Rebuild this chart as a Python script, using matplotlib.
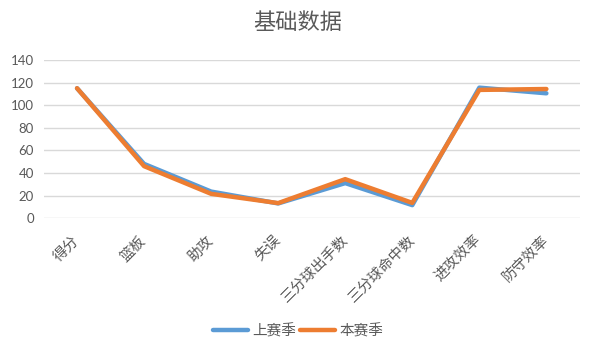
import matplotlib
matplotlib.use("Agg")
import matplotlib.pyplot as plt
from matplotlib.transforms import ScaledTranslation

plt.rcParams['font.family'] = ['Noto Sans CJK SC', 'DejaVu Sans']

categories = ['得分', '篮板', '助攻', '失误', '三分球出手数', '三分球命中数', '进攻效率', '防守效率']
last_season = [115, 48, 23.5, 13, 31, 11.5, 115.5, 110.5]
this_season = [115, 46, 21.5, 13.3, 34.5, 13.5, 113.5, 114.3]
yticks = [0, 20, 40, 60, 80, 100, 120, 140]

fig = plt.figure(figsize=(5.96, 3.57), dpi=100)
ax = fig.add_axes([0.073, 0.389, 0.9, 0.443])

x = list(range(len(categories)))
ax.plot(x, last_season, color='#5B9BD5', lw=3.2, label='上赛季', solid_capstyle='round')
ax.plot(x, this_season, color='#ED7D31', lw=3.2, label='本赛季', solid_capstyle='round')

ax.set_xlim(-0.5, len(categories) - 0.5)
ax.set_ylim(0, 140)
ax.set_yticks(yticks)
ax.set_yticklabels([str(v) for v in yticks], color='#595959', fontsize=9.5, family=['Lato', 'DejaVu Sans'])
ax.yaxis.grid(True, color='#D9D9D9', lw=1)
ax.set_axisbelow(True)
ax.tick_params(axis='both', length=0)
ax.tick_params(axis='y', pad=7)
for s in ax.spines.values():
    s.set_visible(False)

ax.set_xticks(x)
labels = ax.set_xticklabels(categories, rotation=45, ha='right', va='center', rotation_mode='anchor',
                            color='#595959', fontsize=10.5)
offset = ScaledTranslation(0 / 72, -11 / 72, fig.dpi_scale_trans)
for lab in labels:
    lab.set_transform(lab.get_transform() + offset)

fig.text(0.5, 0.938, '基础数据', ha='center', va='center', fontsize=16, color='#595959')

leg = fig.legend(loc='center', bbox_to_anchor=(0.5, 0.073), ncol=2, frameon=False,
                 fontsize=10.5, handlelength=2.4, handletextpad=0.3, columnspacing=0.3)
for t in leg.get_texts():
    t.set_color('#595959')

fig.savefig('out.png', dpi=100)
